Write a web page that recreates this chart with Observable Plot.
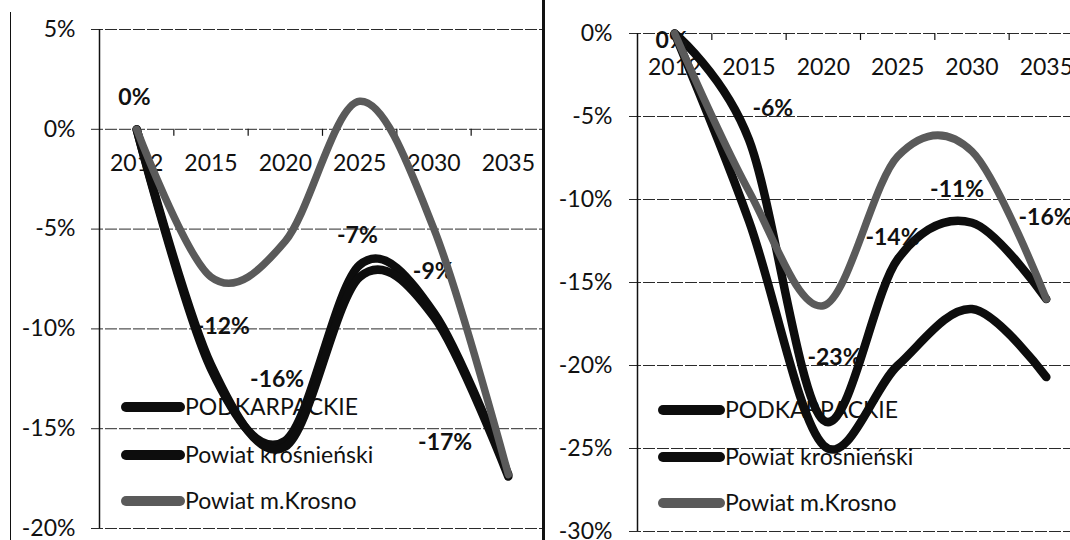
<!DOCTYPE html>
<html><head><meta charset="utf-8">
<script src="https://cdn.jsdelivr.net/npm/d3@7"></script>
<script src="https://cdn.jsdelivr.net/npm/@observablehq/plot@0.6"></script>
<style>
html,body{margin:0;padding:0;background:#fff;}
#wrap{position:relative;width:1070px;height:540px;overflow:hidden;background:#fff;}
.panel{position:absolute;top:0;height:540px;}
.panel svg{max-width:none !important;display:block;}
#frameL{position:absolute;left:10px;top:12px;width:0;height:528px;border-left:1.5px solid #111;}
#sep{position:absolute;left:542px;top:0;width:0;height:540px;border-left:3px solid #111;}
</style></head><body>
<div id="wrap"><div id="frameL"></div><div class="panel" id="left" style="left:0;width:545px"></div><div class="panel" id="right" style="left:545px;width:538px"></div><div id="sep"></div></div>
<script>
const years = [2012, 2015, 2020, 2025, 2030, 2035];
const seriesNames = ["PODKARPACKIE", "Powiat krośnieński", "Powiat m.Krosno"];
const seriesColors = ["#0d0d0d", "#0d0d0d", "#5a5a5a"];

// left panel (% change vs 2012)
const leftPodkarpackie = [0, -12, -15.6, -6.8, -9.2, -17.3];
const leftKrosnienski = [0, -11.8, -15.9, -7.4, -9.4, -17.4];
const leftKrosno = [0, -7.4, -5.6, 1.4, -5, -17.3];
const leftTicks = [5, 0, -5, -10, -15, -20];

// right panel
const rightPodkarpackie = [0, -6.4, -23.3, -13.6, -11.4, -16];
const rightKrosnienski = [0, -11.3, -24.8, -20, -16.6, -20.7];
const rightKrosno = [0, -9.5, -16.4, -7.4, -7.1, -16];
const rightTicks = [0, -5, -10, -15, -20, -25, -30];

// data-label placement (value units / category units)
const leftLabelY = [1.6, -9.9, -12.55, -5.35, -7.15, -15.7];
const leftLabelShift = [-0.03, 0.16, -0.11, -0.03, -0.01, -0.85];
const rightLabelY = [-0.4, -4.5, -19.5, -12.3, -9.4, -11.1];
const rightLabelShift = [-0.04, 0.32, 0.15, -0.07, -0.2, -0.01];

const FONT = "Lato, 'Open Sans', sans-serif";
const FS = 23;

function makePanel(cfg) {
  const data = [];
  cfg.series.forEach((vals, s) => vals.forEach((v, i) => data.push({s, i, v})));
  const bySeries = s => data.filter(d => d.s === s);
  const idx = years.map((_, i) => i);
  const bounds = years.slice(1).map((_, i) => i + 0.5);
  const widths = [8.5, 8.5, 7.5];
  const lineMark = s => Plot.line(bySeries(s), {x: "i", y: "v", curve: "cardinal", stroke: seriesColors[s], strokeWidth: widths[s], strokeLinejoin: "round", strokeLinecap: "round"});
  const svg = Plot.plot({
    width: cfg.width, height: 540,
    marginLeft: cfg.marginLeft, marginRight: 0, marginTop: cfg.marginTop, marginBottom: cfg.marginBottom,
    style: {fontFamily: FONT, fontSize: FS + "px", color: "#111", background: "transparent", overflow: "visible", maxWidth: "none"},
    x: {type: "linear", domain: [-0.5, years.length - 0.5], axis: null},
    y: {domain: [d3.min(cfg.ticks), d3.max(cfg.ticks)], ticks: cfg.ticks, tickFormat: d => d + "%", tickSize: 0, tickPadding: cfg.tickPadding, label: null},
    marks: [
      Plot.ruleY(cfg.ticks, {stroke: "#2a2a2a", strokeWidth: 1, strokeDasharray: "12,2", insetLeft: -8}),
      Plot.ruleX([-0.5], {stroke: "#111", strokeWidth: 1.5}),
      Plot.ruleX(bounds, {y1: 0, y2: 0, insetBottom: -7, stroke: "#111", strokeWidth: 1.2}),
      Plot.text(idx, {x: d => d, y: 0, text: d => String(years[d]), dy: 34, fill: "#111", fontSize: FS}),
      lineMark(0),
      Plot.text(idx, {x: d => d + cfg.labelShift[d], y: d => cfg.labelY[d], text: d => Math.round(cfg.series[0][d]) + "%", fill: "#111", fontSize: FS, fontWeight: "bold"}),
      lineMark(1),
      lineMark(2)
    ]
  });
  // legend inside plot area, under the lines
  const g = d3.create("svg:g").attr("font-family", FONT).attr("font-size", FS).attr("text-anchor", "start");
  seriesNames.forEach((name, s) => {
    const y = cfg.legendY[s];
    g.append("line").attr("x1", cfg.legendX[0]).attr("x2", cfg.legendX[1]).attr("y1", y).attr("y2", y)
      .attr("stroke", seriesColors[s]).attr("stroke-width", 10).attr("stroke-linecap", "round");
    g.append("text").attr("x", cfg.legendX[1] + 5).attr("y", y).attr("dy", "0.36em").attr("text-anchor", "start").attr("fill", "#111").text(name);
  });
  const firstLine = svg.querySelector('g[aria-label="line"]');
  svg.insertBefore(g.node(), firstLine);
  return svg;
}

document.getElementById("left").appendChild(makePanel({
  series: [leftPodkarpackie, leftKrosnienski, leftKrosno],
  ticks: leftTicks, width: 545, marginLeft: 99, marginTop: 29, marginBottom: 12, tickPadding: 24,
  labelY: leftLabelY, labelShift: leftLabelShift,
  legendX: [126, 180], legendY: [407, 455, 501]
}));
document.getElementById("right").appendChild(makePanel({
  series: [rightPodkarpackie, rightKrosnienski, rightKrosno],
  ticks: rightTicks, width: 538, marginLeft: 92, marginTop: 33, marginBottom: 9, tickPadding: 25,
  labelY: rightLabelY, labelShift: rightLabelShift,
  legendX: [118, 175], legendY: [410, 457, 503]
}));
</script>
</body></html>
